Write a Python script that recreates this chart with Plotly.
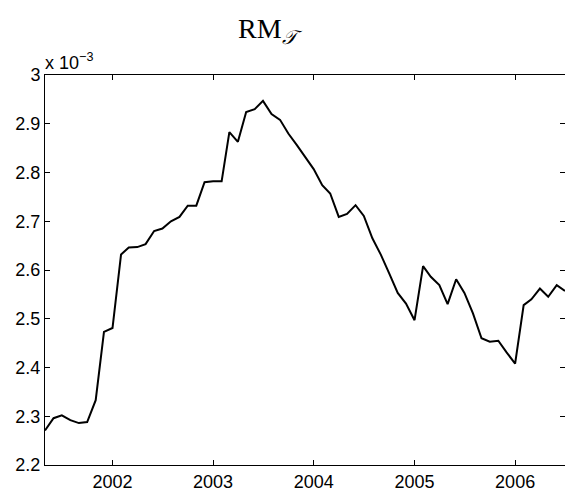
import plotly.graph_objects as go
import pandas as pd

# Monthly observations, May 2001 - July 2006
months = pd.date_range("2001-05-01", "2006-07-01", freq="MS")

# RM_T values, in units of 1e-3
rm_e3 = [
    2.271, 2.296, 2.302, 2.292, 2.286, 2.288, 2.333, 2.473, 2.481, 2.632,
    2.646, 2.647, 2.653, 2.680, 2.685, 2.700, 2.709, 2.732, 2.732, 2.780,
    2.782, 2.782, 2.883, 2.863, 2.924, 2.930, 2.947, 2.920, 2.908, 2.880,
    2.856, 2.831, 2.807, 2.774, 2.757, 2.709, 2.715, 2.733, 2.711, 2.665,
    2.631, 2.593, 2.553, 2.531, 2.497, 2.608, 2.586, 2.569, 2.530, 2.581,
    2.553, 2.511, 2.460, 2.453, 2.455, 2.431, 2.408, 2.528, 2.540, 2.562,
    2.545, 2.569, 2.557,
]

year_ticks = ["2002-01-01", "2003-01-01", "2004-01-01", "2005-01-01", "2006-01-01"]
year_labels = ["2002", "2003", "2004", "2005", "2006"]
y_ticks = [2.2, 2.3, 2.4, 2.5, 2.6, 2.7, 2.8, 2.9, 3.0]
y_labels = ["2.2", "2.3", "2.4", "2.5", "2.6", "2.7", "2.8", "2.9", "3"]

FONT = "Liberation Sans, Arial, Helvetica, sans-serif"

fig = go.Figure(
    go.Scatter(
        x=months,
        y=rm_e3,
        mode="lines",
        line=dict(color="black", width=2),
        hoverinfo="skip",
    )
)

axis_common = dict(
    showline=True,
    linecolor="black",
    linewidth=1,
    mirror="ticks",
    ticks="inside",
    ticklen=5,
    tickcolor="black",
    tickwidth=1,
    showgrid=False,
    zeroline=False,
    tickfont=dict(family=FONT, size=18, color="black"),
)

fig.update_layout(
    width=565,
    height=495,
    margin=dict(l=45, r=0, t=75, b=30),
    paper_bgcolor="white",
    plot_bgcolor="white",
    showlegend=False,
    xaxis=dict(
        type="date",
        range=[months[0], months[-1]],
        tickvals=year_ticks,
        ticktext=year_labels,
        **axis_common,
    ),
    yaxis=dict(
        range=[2.2, 3.0],
        tickvals=y_ticks,
        ticktext=y_labels,
        **axis_common,
    ),
    annotations=[
        dict(
            text="RM<sub><i>𝒯</i></sub>",
            xref="paper", yref="paper",
            x=0.433, y=1.115,
            xanchor="center", yanchor="middle",
            showarrow=False,
            font=dict(family="Liberation Serif, DejaVu Serif, serif", size=28, color="black"),
        ),
        dict(
            text="x 10<sup>−3</sup>",
            xref="paper", yref="paper",
            x=-0.004, y=1.0,
            xanchor="left", yanchor="bottom",
            showarrow=False,
            font=dict(family=FONT, size=18, color="black"),
        ),
    ],
)

fig.write_html("out.html")
